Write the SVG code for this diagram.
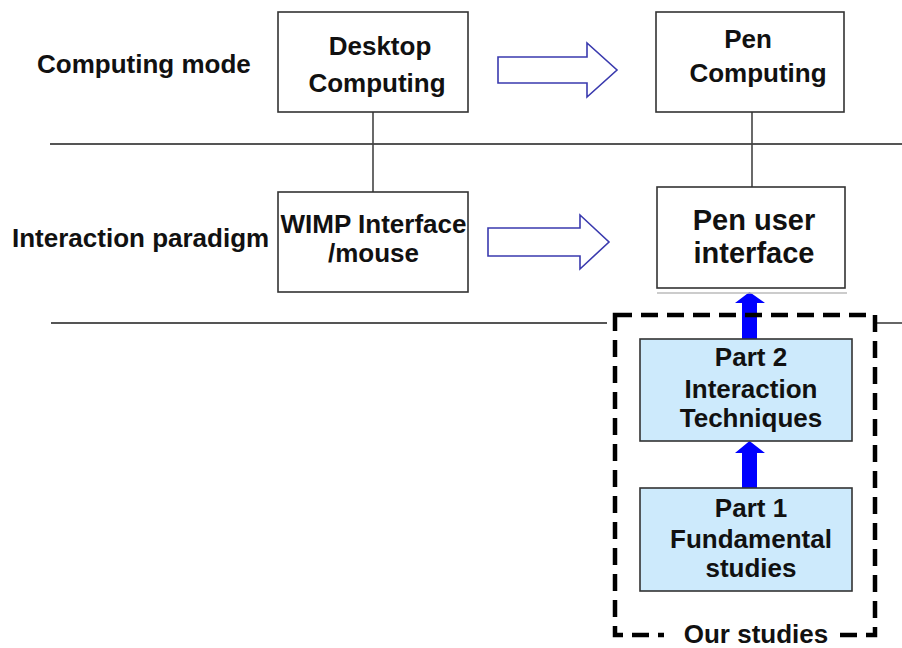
<svg xmlns="http://www.w3.org/2000/svg" width="902" height="648" viewBox="0 0 902 648">
<style>
text{font-family:"Liberation Sans",Arial,sans-serif;font-weight:bold;fill:#111;text-anchor:middle}
.lbl{text-anchor:start;font-size:26px}
.box{fill:#fff;stroke:#333;stroke-width:1.6}
.part{fill:#cdeafc;stroke:#333;stroke-width:1.6}
.sep{stroke:#555;stroke-width:1.8}
.hollow{fill:#fff;stroke:#3a3aae;stroke-width:1.6;stroke-linejoin:miter}
.blue{fill:#0000ff}
.t26{font-size:26px}
.t29{font-size:29px}
</style>
<rect width="902" height="648" fill="#fff"/>
<g id="separators">
<line class="sep" x1="50" y1="144" x2="902" y2="144"/>
<line class="sep" x1="51" y1="323" x2="607" y2="323"/>
<line class="sep" x1="877" y1="323" x2="902" y2="323"/>
</g>
<g id="row-labels">
<text class="lbl" x="37" y="73">Computing mode</text>
<text class="lbl" x="12" y="247">Interaction paradigm</text>
</g>
<g id="connectors">
<line x1="373" y1="112" x2="373" y2="192" stroke="#444" stroke-width="1.6"/>
<line x1="752" y1="112" x2="752" y2="187" stroke="#444" stroke-width="1.6"/>
<polygon class="hollow" points="498,57 587,57 587,43 617,70 587,97 587,83 498,83"/>
<polygon class="hollow" points="488,228 580,228 580,215 609,242 580,269 580,256 488,256"/>
<polygon class="blue" points="742,339 742,303 735,303 749.5,292 765,303 757,303 757,339"/>
<polygon class="blue" points="742,488 742,453 735,453 749.5,441 765,453 757,453 757,488"/>
</g>
<g id="desktop">
<rect class="box" x="278" y="12" width="190" height="100"/>
<text class="t26" x="380" y="55">Desktop</text>
<text class="t26" x="377" y="92">Computing</text>
</g>
<g id="pen-computing">
<rect class="box" x="656" y="12" width="188" height="100"/>
<text class="t26" x="748" y="48">Pen</text>
<text class="t26" x="758" y="82">Computing</text>
</g>
<g id="wimp">
<rect class="box" x="278" y="192" width="190" height="100"/>
<text class="t26" x="373.5" y="233">WIMP Interface</text>
<text class="t26" x="373.5" y="262">/mouse</text>
</g>
<g id="pen-ui">
<line x1="657" y1="293" x2="847" y2="293" stroke="#bbb" stroke-width="1.5"/>
<rect class="box" x="657" y="187" width="188" height="101"/>
<text class="t29" x="754" y="230">Pen user</text>
<text class="t29" x="754" y="263">interface</text>
</g>
<g id="our-studies">
<rect x="615" y="315" width="260" height="320" fill="none" stroke="#000" stroke-width="4.5" stroke-dasharray="17 9"/>
<rect x="664" y="624" width="173" height="22" fill="#fff"/>
<text class="t26" x="756" y="643">Our studies</text>
</g>
<g id="part2">
<rect class="part" x="640" y="339" width="212" height="102"/>
<text class="t26" x="751" y="366">Part 2</text>
<text class="t26" x="751" y="398">Interaction</text>
<text class="t26" x="751" y="427">Techniques</text>
</g>
<g id="part1">
<rect class="part" x="640" y="488" width="212" height="103"/>
<text class="t26" x="751" y="517">Part 1</text>
<text class="t26" x="751" y="548">Fundamental</text>
<text class="t26" x="751" y="577">studies</text>
</g>
</svg>
